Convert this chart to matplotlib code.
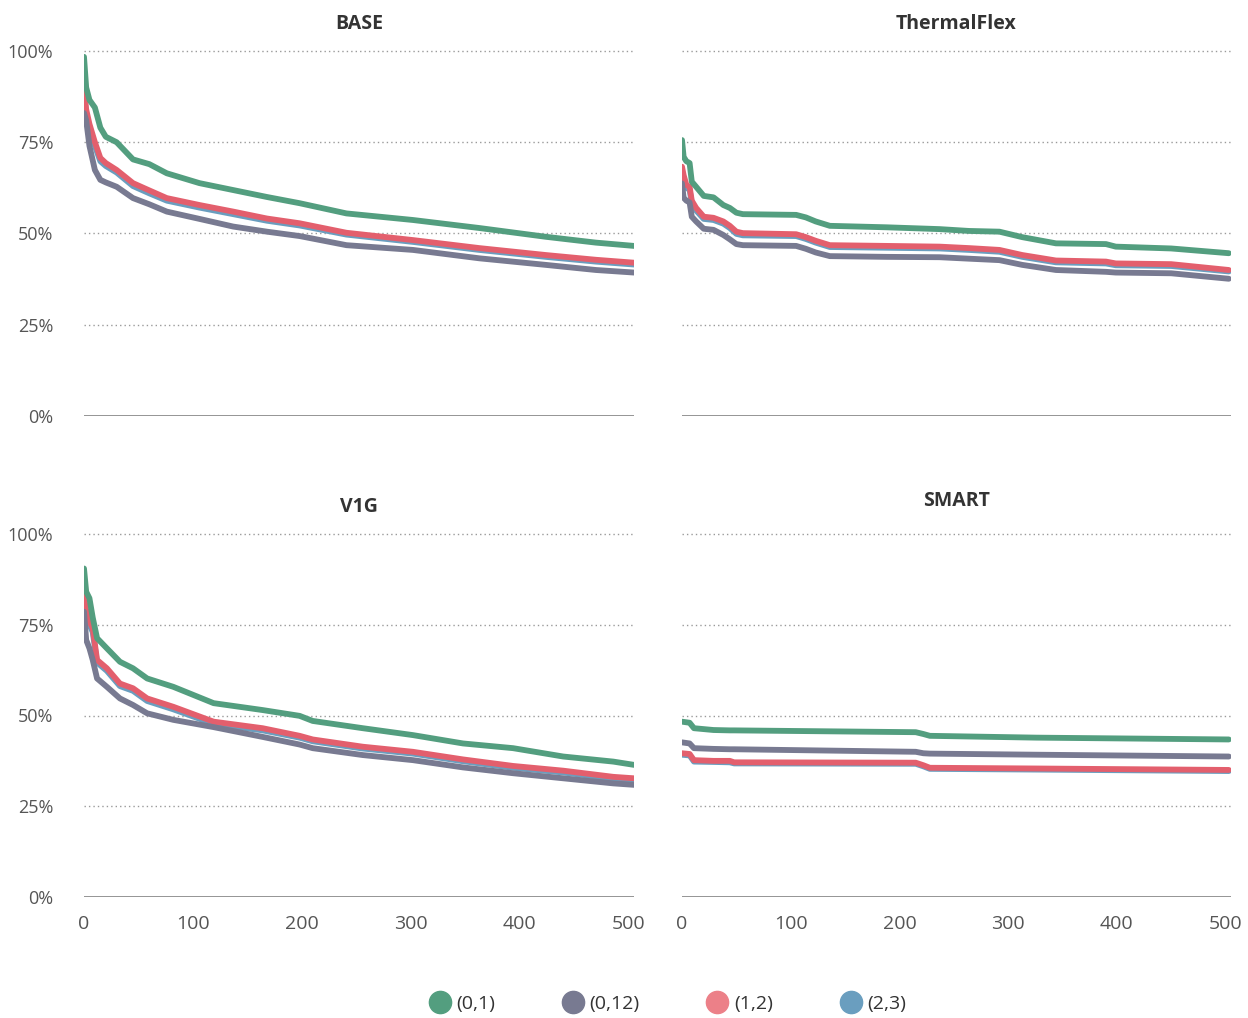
import matplotlib
matplotlib.use("Agg")
import matplotlib.pyplot as plt
from matplotlib.lines import Line2D

plt.rcParams['font.family'] = ['Open Sans', 'DejaVu Sans']

series_names = ["(0,1)", "(0,12)", "(1,2)", "(2,3)"]
line_colors = ["#539E7F", "#787A91", "#E35F6D", "#6A9EBF"]
legend_colors = ["#539E7F", "#787A91", "#EC8088", "#6A9EBF"]

# BASE
base_x = [0, 2, 5, 10, 15, 20, 30, 45, 60, 76, 106, 137, 168, 198, 241, 302, 363, 424, 470, 505]
base_01 = [98.4, 90, 86.6, 84.5, 79, 76.5, 75, 70.3, 69, 66.5, 63.8, 61.9, 60, 58.3, 55.5, 53.7, 51.5, 49.1, 47.5, 46.6]
base_012 = [83, 81, 74, 67.4, 64.7, 64, 62.8, 59.7, 58, 56, 54, 51.9, 50.5, 49.3, 46.8, 45.5, 43.2, 41.4, 40, 39.3]
base_12 = [90, 84, 80, 75, 70.7, 69.3, 67.4, 63.8, 61.8, 59.7, 57.8, 56, 54.1, 52.8, 50.2, 48.2, 46, 44.1, 42.8, 42]
base_23 = [88.5, 82.5, 79, 74, 69.8, 68.5, 66.7, 63, 61, 59, 57.1, 55.3, 53.5, 52.2, 49.7, 47.7, 45.5, 43.6, 42.3, 41.5]

# ThermalFlex
tf_x = [0, 1.5, 4, 7, 9, 13, 20, 29, 38, 44, 50, 56, 105, 114, 123, 136, 188, 237, 264, 292, 313, 344, 390, 399, 450, 503]
tf_01 = [75.6, 71, 69.8, 69.3, 64.2, 62.8, 60.3, 59.9, 57.8, 57, 55.7, 55.3, 55.1, 54.4, 53.3, 52.1, 51.7, 51.2, 50.7, 50.5, 49, 47.3, 47.1, 46.4, 45.9, 44.6]
tf_012 = [63.7, 59.8, 59, 58.5, 54.6, 53.3, 51.3, 51, 49.6, 48.4, 47.1, 46.8, 46.6, 45.8, 44.8, 43.8, 43.6, 43.5, 43.1, 42.7, 41.4, 40, 39.5, 39.3, 39.1, 37.6]
tf_12 = [68.3, 66, 63.3, 62.8, 59, 57, 54.6, 54.3, 53.3, 52.1, 50.5, 50.1, 49.8, 49, 48, 46.8, 46.6, 46.4, 46, 45.5, 44.1, 42.6, 42.3, 41.8, 41.6, 40]
tf_23 = [66.5, 64.5, 62.5, 62, 58.3, 56.3, 54, 53.7, 52.7, 51.5, 49.9, 49.5, 49.3, 48.5, 47.5, 46.3, 46.1, 45.9, 45.5, 45, 43.6, 42.1, 41.8, 41.3, 41.1, 39.6]

# V1G
v1g_x = [0, 2, 5, 8, 12, 21, 33, 45, 58, 82, 119, 164, 198, 210, 256, 302, 348, 394, 440, 486, 505]
v1g_01 = [90.5, 84.1, 82.3, 77, 71.3, 68.5, 64.8, 63, 60.2, 57.9, 53.4, 51.5, 49.9, 48.5, 46.5, 44.6, 42.3, 41, 38.7, 37.3, 36.4]
v1g_012 = [78.6, 70.8, 68.5, 65.3, 60.2, 57.9, 54.7, 52.9, 50.6, 48.8, 46.8, 44.1, 42, 41, 39.1, 37.7, 35.7, 34.1, 32.7, 31.3, 30.9]
v1g_12 = [82.7, 79, 76, 74, 65.3, 63, 58.8, 57.5, 54.7, 52.4, 48.3, 46.5, 44.4, 43.4, 41.4, 40, 37.9, 36.1, 34.8, 33.1, 32.7]
v1g_23 = [81, 78, 75, 73, 64.6, 62.3, 58.1, 56.8, 54, 51.7, 47.7, 45.9, 43.9, 42.9, 40.9, 39.5, 37.4, 35.6, 34.3, 32.6, 32.2]

# SMART
smart_x = [0, 7, 11, 29, 44, 48, 215, 222, 228, 326, 503]
smart_01 = [48.3, 48.0, 46.5, 46.0, 45.9, 45.9, 45.4, 44.9, 44.4, 43.9, 43.4]
smart_012 = [42.6, 42.3, 41.0, 40.8, 40.7, 40.7, 40.0, 39.6, 39.5, 39.2, 38.7]
smart_12 = [39.6, 39.4, 37.7, 37.5, 37.5, 37.1, 37.0, 36.3, 35.6, 35.4, 35.0]
smart_23 = [39.2, 39.0, 37.3, 37.2, 37.1, 36.8, 36.7, 36.0, 35.3, 35.1, 34.7]

panels = [
    ("BASE", base_x, [base_01, base_012, base_12, base_23]),
    ("ThermalFlex", tf_x, [tf_01, tf_012, tf_12, tf_23]),
    ("V1G", v1g_x, [v1g_01, v1g_012, v1g_12, v1g_23]),
    ("SMART", smart_x, [smart_01, smart_012, smart_12, smart_23]),
]

W, H = 1248, 1018
fig = plt.figure(figsize=(W / 100, H / 100), dpi=100)

# axes boxes in pixels: left, right, top(100%), bottom(0%)
boxes = [(84, 634, 51, 416), (682, 1231, 51, 416),
         (84, 634, 534, 897), (682, 1231, 534, 897)]

draw_order = [3, 2, 1, 0]

for i, (title, xs, ys) in enumerate(panels):
    l, r, t, b = boxes[i]
    ax = fig.add_axes([l / W, 1 - b / H, (r - l) / W, (b - t) / H])
    for k in draw_order:
        ax.plot(xs, ys[k], color=line_colors[k], lw=4.2,
                solid_capstyle="round", solid_joinstyle="round", zorder=3 + (3 - k))
    ax.set_xlim(0, 505)
    ax.set_ylim(0, 100)
    for v in [25, 50, 75, 100]:
        ax.axhline(v, color="#9a9a9a", lw=1, ls=(0, (1, 2.2)), zorder=1, clip_on=False)
    ax.axhline(0, color="#8c8c8c", lw=1.3, zorder=1)
    for s in ax.spines.values():
        s.set_visible(False)
    ax.tick_params(length=0, colors="#555555", labelsize=13)
    ax.set_yticks([0, 25, 50, 75, 100])
    ax.set_xticks([0, 100, 200, 300, 400, 500])
    if i % 2 == 0:
        ax.set_yticklabels(["0%", "25%", "50%", "75%", "100%"])
        ax.tick_params(axis="y", pad=22)
    else:
        ax.set_yticklabels([])
    if i >= 2:
        ax.tick_params(axis="x", pad=13, labelsize=14)
    else:
        ax.set_xticklabels([])
    pad = 20 if title == "SMART" else 16
    ax.set_title(title, fontsize=14, fontweight="bold", color="#333333", pad=pad)

handles = [Line2D([], [], ls="none", marker="o", markersize=16,
                  markerfacecolor=c, markeredgecolor=c) for c in legend_colors]
fig.legend(handles, series_names, loc="center", ncol=4,
           bbox_to_anchor=(668 / W, 1 - 1004 / H), frameon=False,
           fontsize=14, handlelength=1.0, handletextpad=0.35,
           columnspacing=3.5, labelcolor="#333333")

fig.savefig("out.png", dpi=100)
